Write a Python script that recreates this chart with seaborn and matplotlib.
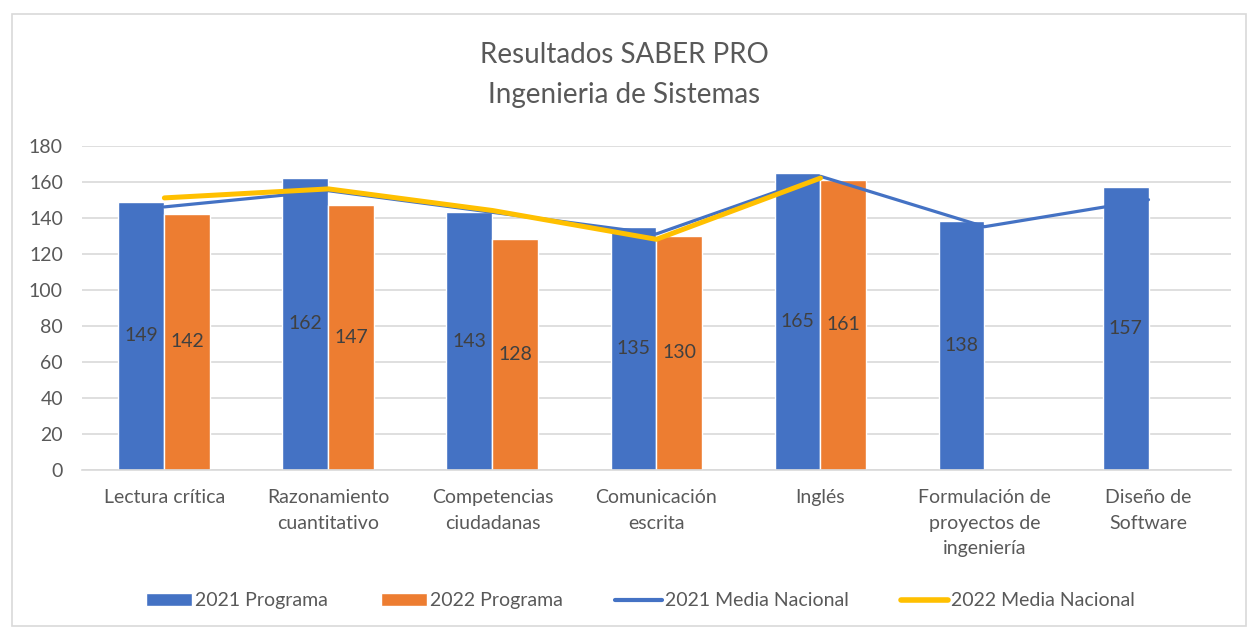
import numpy as np
import pandas as pd
import seaborn as sns
import matplotlib.pyplot as plt
from matplotlib.patches import Rectangle
from matplotlib.lines import Line2D
from matplotlib.patches import Patch

categorias = ["Lectura crítica", "Razonamiento\ncuantitativo", "Competencias\nciudadanas",
              "Comunicación\nescrita", "Inglés", "Formulación de\nproyectos de\ningeniería",
              "Diseño de\nSoftware"]
programa_2021 = [149, 162, 143, 135, 165, 138, 157]
programa_2022 = [142, 147, 128, 130, 161, np.nan, np.nan]
media_2021 = [146, 155, 143, 131, 163, 135, 150]
media_2022 = [151, 156, 144, 128, 162, np.nan, np.nan]

AZUL = "#4472C4"
NARANJA = "#ED7D31"
AMARILLO = "#FFC000"
GRIS = "#595959"

sns.set_theme(style="white")
plt.rcParams["font.family"] = ["Lato", "DejaVu Sans"]

df = pd.DataFrame({
    "categoria": categorias * 2,
    "valor": programa_2021 + programa_2022,
    "serie": ["2021 Programa"] * len(categorias) + ["2022 Programa"] * len(categorias),
})

fig = plt.figure(figsize=(12.48, 6.28), dpi=100)
ax = fig.add_axes([0.066, 0.252, 0.92, 0.516])

sns.barplot(data=df, x="categoria", y="valor", hue="serie", order=categorias,
            hue_order=["2021 Programa", "2022 Programa"],
            palette=[AZUL, NARANJA], width=0.56, saturation=1, ax=ax, legend=False)

for cont in ax.containers:
    ax.bar_label(cont, label_type="center", fontsize=14, color="#404040",
                 fmt="%.0f")

pos = np.arange(len(categorias))
sns.lineplot(x=pos, y=media_2021, color=AZUL, linewidth=2.3, ax=ax, zorder=4)
sns.lineplot(x=pos, y=media_2022, color=AMARILLO, linewidth=3.6, ax=ax, zorder=5)

ax.set_xlim(-0.5, len(categorias) - 0.5)
ax.set_ylim(0, 180)
ax.set_yticks(range(0, 181, 20))
ax.yaxis.grid(True, color="#d9d9d9", linewidth=1.2)
ax.set_axisbelow(True)
for s in ["left", "right", "top"]:
    ax.spines[s].set_visible(False)
ax.spines["bottom"].set_color("#d9d9d9")
ax.spines["bottom"].set_linewidth(1.2)
ax.tick_params(axis="both", length=0, labelsize=14, colors=GRIS)
ax.tick_params(axis="x", pad=14)
ax.tick_params(axis="y", pad=14)
for lbl in ax.get_xticklabels():
    lbl.set_linespacing(1.6)
ax.set_xlabel("")
ax.set_ylabel("")

fig.text(0.5, 0.912, "Resultados SABER PRO", ha="center", va="center",
         fontsize=20, color=GRIS)
fig.text(0.5, 0.849, "Ingenieria de Sistemas", ha="center", va="center",
         fontsize=20, color=GRIS)

handles = [
    Patch(facecolor=AZUL, label="2021 Programa"),
    Patch(facecolor=NARANJA, label="2022 Programa"),
    Line2D([], [], color=AZUL, linewidth=3, label="2021 Media Nacional"),
    Line2D([], [], color=AMARILLO, linewidth=4, label="2022 Media Nacional"),
]
fig.legend(handles=handles, loc="center", bbox_to_anchor=(0.513, 0.043), ncol=4,
           frameon=False, fontsize=14, handlelength=2.4, handleheight=0.6,
           handletextpad=0.15, columnspacing=2.7, labelcolor=GRIS)

fig.add_artist(Rectangle((0.0096, 0.003), 0.989, 0.974, transform=fig.transFigure,
                         fill=False, edgecolor="#d9d9d9", linewidth=1.2))

fig.savefig("out.png", dpi=100)
